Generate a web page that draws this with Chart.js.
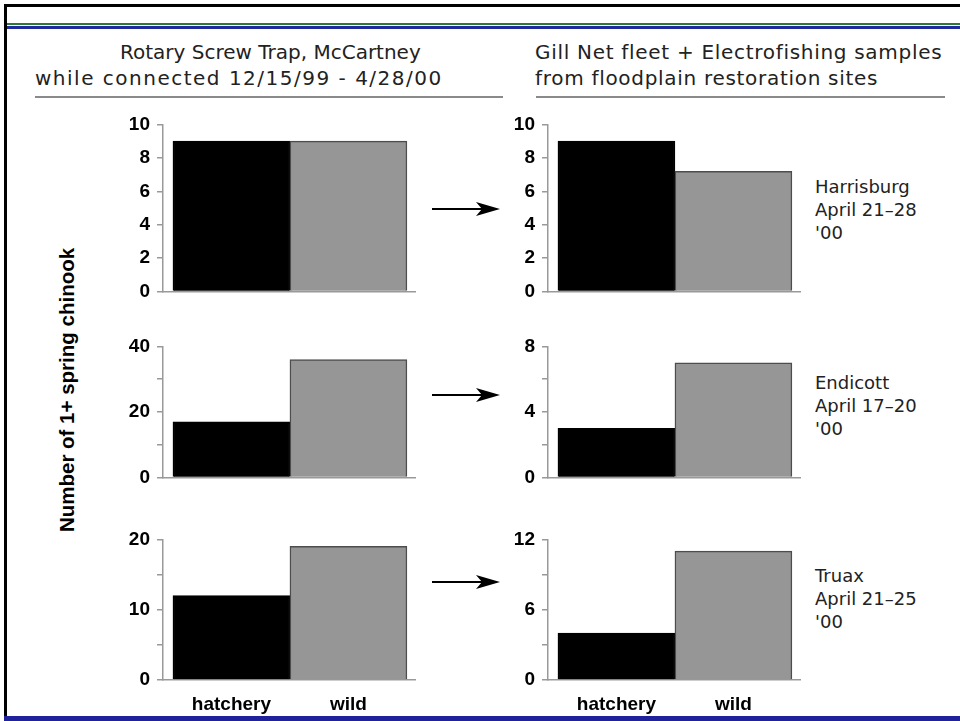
<!DOCTYPE html>
<html>
<head>
    <meta charset="utf-8">
    <title>1+ spring chinook, trap vs. floodplain sites</title>
    <script src="https://cdn.jsdelivr.net/npm/chart.js"></script>
    <style>
        body, html {
            margin: 0;
            padding: 0;
            background: #fff;
        }

        .page {
            position: relative;
            width: 960px;
            height: 721px;
            overflow: hidden;
            background: #fff;
            font-family: 'DejaVu Sans', sans-serif;
            color: #222;
        }

        /* slide frame */
        .rule { position: absolute; }
        .rule.top    { left: 4px; top: 4px; width: 956px; height: 3px; background: #000; }
        .rule.left   { left: 4px; top: 4px; width: 3px; height: 714px; background: #000; }
        .rule.green  { left: 7px; top: 23px; width: 953px; height: 2px; background: #2b7a35; }
        .rule.blue   { left: 7px; top: 26px; width: 953px; height: 3px; background: #1f2a9c; }
        .rule.bottom { left: 4px; top: 716px; width: 956px; height: 5px; background: #1f229a; }
        .rule.under  { top: 96px; height: 2px; background: #8a8a8a; }

        .title {
            position: absolute;
            font-size: 20px;
            line-height: 26px;
            white-space: nowrap;
        }

        .site {
            position: absolute;
            left: 815px;
            font-size: 18px;
            line-height: 23px;
            white-space: nowrap;
        }

        .ylabel {
            position: absolute;
            left: 67px;
            top: 390px;
            transform: translate(-50%, -50%) rotate(-90deg);
            font-family: 'Liberation Sans', Arial, sans-serif;
            font-weight: bold;
            font-size: 20.5px;
            white-space: nowrap;
            color: #000;
        }

        canvas { position: absolute; }
        svg.arrow { position: absolute; left: 430px; width: 72px; height: 20px; }
    </style>
</head>
<body>
<div class="page">
    <div class="rule top"></div>
    <div class="rule left"></div>
    <div class="rule green"></div>
    <div class="rule blue"></div>
    <div class="rule bottom"></div>

    <div class="title" style="left:120px; top:39px;">Rotary Screw Trap, McCartney</div>
    <div class="title" style="left:35px; top:65px; letter-spacing:1.5px;">while connected 12/15/99 - 4/28/00</div>
    <div class="title" style="left:535px; top:39px; letter-spacing:0.7px;">Gill Net fleet + Electrofishing samples</div>
    <div class="title" style="left:535px; top:65px; letter-spacing:0.7px;">from floodplain restoration sites</div>
    <div class="rule under" style="left:35px; width:468px;"></div>
    <div class="rule under" style="left:536px; width:409px;"></div>

    <div class="ylabel">Number of 1+ spring chinook</div>

    <!-- left column: screw trap, right column: floodplain sites -->
    <canvas id="trap1" width="320" height="204" style="left:100px; top:106px;"></canvas>
    <canvas id="site1" width="320" height="204" style="left:485px; top:106px;"></canvas>
    <canvas id="trap2" width="320" height="168" style="left:100px; top:328px;"></canvas>
    <canvas id="site2" width="320" height="168" style="left:485px; top:328px;"></canvas>
    <canvas id="trap3" width="320" height="194" style="left:100px; top:521px;"></canvas>
    <canvas id="site3" width="320" height="194" style="left:485px; top:521px;"></canvas>

    <svg class="arrow" style="top:199px;" viewBox="0 0 72 20"><line x1="2" y1="10" x2="52" y2="10" stroke="#000" stroke-width="2"/><path d="M70 10 L46 3 L52 10 L46 17 Z" fill="#000"/></svg>
    <svg class="arrow" style="top:385px;" viewBox="0 0 72 20"><line x1="2" y1="10" x2="52" y2="10" stroke="#000" stroke-width="2"/><path d="M70 10 L46 3 L52 10 L46 17 Z" fill="#000"/></svg>
    <svg class="arrow" style="top:572px;" viewBox="0 0 72 20"><line x1="2" y1="10" x2="52" y2="10" stroke="#000" stroke-width="2"/><path d="M70 10 L46 3 L52 10 L46 17 Z" fill="#000"/></svg>

    <div class="site" style="top:175px;">Harrisburg<br>April 21–28<br>'00</div>
    <div class="site" style="top:371px;">Endicott<br>April 17–20<br>'00</div>
    <div class="site" style="top:564px;">Truax<br>April 21–25<br>'00</div>
</div>

<script>
    const categories = ['hatchery', 'wild'];

    // Rotary screw trap counts (hatchery, wild)
    const trapHarrisburg = [9, 9];
    const trapEndicott = [17, 36];
    const trapTruax = [12, 19];

    // Gill net + electrofishing counts at each floodplain site
    const siteHarrisburg = [9, 7.2];
    const siteEndicott = [3, 7];
    const siteTruax = [4, 11];

    // y tick marks and which of them carry a label
    const ticksHarrisburg = [0, 2, 4, 6, 8, 10];
    const labelsHarrisburg = [0, 2, 4, 6, 8, 10];
    const ticksTrapEndicott = [0, 10, 20, 30, 40];
    const labelsTrapEndicott = [0, 20, 40];
    const ticksSiteEndicott = [0, 2, 4, 6, 8];
    const labelsSiteEndicott = [0, 4, 8];
    const ticksTrapTruax = [0, 5, 10, 15, 20];
    const labelsTrapTruax = [0, 10, 20];
    const ticksSiteTruax = [0, 3, 6, 9, 12];
    const labelsSiteTruax = [0, 6, 12];

    const axisGray = '#999';
    const tickFont = { family: "'Liberation Sans', Arial, sans-serif", weight: 'bold', size: 19 };

    function drawPanel(id, values, tickValues, labelValues, showCategories) {
        const ctx = document.getElementById(id).getContext('2d');
        new Chart(ctx, {
            type: 'bar',
            data: {
                datasets: [{
                    data: values.map((v, i) => ({ x: i, y: v })),
                    backgroundColor: ['#000', '#969696'],
                    borderColor: ['#000', '#4d4d4d'],
                    borderWidth: 1.5,
                    barPercentage: 1,
                    categoryPercentage: 1
                }]
            },
            options: {
                responsive: false,
                animation: false,
                events: [],
                layout: { padding: { top: 10, right: 5, left: 0, bottom: 0 } },
                plugins: {
                    legend: { display: false },
                    tooltip: { enabled: false }
                },
                scales: {
                    x: {
                        type: 'linear',
                        offset: false,
                        min: -0.585,
                        max: 1.569,
                        afterBuildTicks: scale => {
                            scale.ticks = categories.map((c, i) => ({ value: i }));
                        },
                        afterFit: scale => { scale.height = showCategories ? 35 : 10; },
                        grid: { display: false },
                        border: { display: true, color: axisGray, width: 1.5 },
                        ticks: {
                            display: showCategories,
                            autoSkip: false,
                            maxRotation: 0,
                            padding: 5,
                            color: '#000',
                            font: tickFont,
                            callback: v => categories[v]
                        }
                    },
                    y: {
                        min: 0,
                        max: tickValues[tickValues.length - 1],
                        afterBuildTicks: scale => {
                            scale.ticks = tickValues.map(v => ({ value: v }));
                        },
                        afterFit: scale => { scale.width = 63; },
                        grid: {
                            drawOnChartArea: false,
                            tickLength: 6,
                            color: axisGray,
                            lineWidth: 1.5
                        },
                        border: { display: true, color: axisGray, width: 1.5 },
                        ticks: {
                            autoSkip: false,
                            padding: 7,
                            color: '#000',
                            font: tickFont,
                            callback: v => labelValues.includes(v) ? v : ''
                        }
                    }
                }
            }
        });
    }

    drawPanel('trap1', trapHarrisburg, ticksHarrisburg, labelsHarrisburg, false);
    drawPanel('site1', siteHarrisburg, ticksHarrisburg, labelsHarrisburg, false);
    drawPanel('trap2', trapEndicott, ticksTrapEndicott, labelsTrapEndicott, false);
    drawPanel('site2', siteEndicott, ticksSiteEndicott, labelsSiteEndicott, false);
    drawPanel('trap3', trapTruax, ticksTrapTruax, labelsTrapTruax, true);
    drawPanel('site3', siteTruax, ticksSiteTruax, labelsSiteTruax, true);
</script>
</body>
</html>
